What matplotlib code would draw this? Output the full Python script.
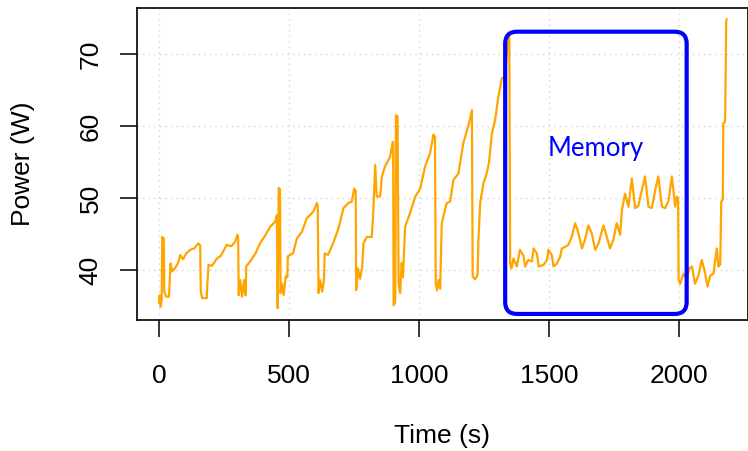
import matplotlib
matplotlib.use("Agg")
import matplotlib.pyplot as plt
from matplotlib.patches import FancyBboxPatch

# power trace (time in s, power in W)
time_s = [0, 2, 6, 10, 12, 18, 20, 27, 38, 40, 44, 50, 62, 73, 81, 92, 104, 119, 135, 151, 158,
          160, 165, 183, 186, 190, 204, 222, 238, 260, 277, 292, 301, 304,
          306, 312, 319, 327, 333, 335, 350, 369, 388, 408, 427, 446, 453,
          456, 460, 465, 467, 473, 479, 487, 493, 495, 515, 530, 549, 568, 593, 607, 610,
          613, 619, 627, 634, 637, 650, 671, 690, 709, 728, 741, 750, 756,
          758, 765, 773, 781, 786, 799, 818, 824, 831, 837, 850, 857, 869, 888, 899, 900,
          902, 908, 911, 917, 921, 927, 933, 938, 946, 965, 985, 1004, 1023, 1042, 1055, 1061,
          1064, 1069, 1075, 1081, 1087, 1106, 1119, 1132, 1151, 1170, 1190, 1203,
          1206, 1215, 1225, 1228, 1235, 1247, 1260, 1269, 1280, 1292, 1305, 1318, 1331, 1338, 1347,
          1350, 1355, 1363, 1376, 1388, 1401, 1408, 1420, 1434, 1440, 1453, 1460, 1478, 1492, 1497,
          1510, 1517, 1530, 1542, 1549, 1561, 1574, 1587, 1600, 1609, 1619, 1626, 1638, 1651,
          1664, 1677, 1690, 1709, 1722, 1734, 1747, 1760, 1773, 1780, 1792, 1805, 1818, 1831,
          1843, 1857, 1869, 1882, 1895, 1908, 1920, 1934, 1946, 1959, 1972, 1985, 1991, 1996,
          1998, 2004, 2017, 2030, 2039, 2049, 2061, 2074, 2087, 2100, 2109, 2119, 2132, 2145,
          2151, 2158, 2162, 2168, 2170, 2177, 2181, 2183]
power_w = [35.5, 36.5, 34.9, 36.0, 44.6, 44.4, 37.0, 36.3, 36.3, 37.9, 40.9, 39.8, 40.3, 41.0,
           42.1, 41.5, 42.3, 42.8, 43.0, 43.7, 43.4,
           37.2, 36.1, 36.1, 38.4, 40.7, 40.6, 41.6, 42.0, 43.5, 43.3, 43.9, 44.9, 44.5,
           36.5, 38.6, 36.3, 38.6, 36.5, 40.5, 41.2, 42.2, 43.7, 44.8, 46.0, 46.7, 47.6,
           34.7, 51.4, 51.2, 36.8, 38.1, 36.5, 39.1, 39.0, 41.9, 42.3, 44.4, 45.3, 47.2, 48.1,
           49.3, 48.9,
           36.8, 38.6, 37.0, 38.6, 42.3, 42.1, 43.9, 45.8, 48.6, 49.3, 49.5, 51.3, 51.0,
           37.2, 40.2, 38.8, 40.4, 43.7, 44.6, 44.6, 48.3, 54.6, 50.2, 50.2, 53.0, 54.4, 55.7,
           57.8, 57.5,
           35.1, 35.5, 61.5, 61.3, 38.1, 36.8, 41.0, 39.0, 46.0, 47.9, 50.2, 51.3, 54.4, 56.2,
           58.8, 58.5,
           38.1, 37.2, 38.6, 37.4, 46.5, 49.3, 49.5, 52.5, 53.4, 57.6, 60.1, 62.2,
           39.1, 38.7, 39.3, 44.2, 49.3, 52.0, 53.4, 55.0, 59.0, 60.8, 64.1, 66.6, 66.9, 70.5, 72.4,
           40.9, 40.2, 41.6, 40.5, 42.8, 42.0, 40.5, 41.4, 41.2, 43.0, 42.3, 40.5, 40.7, 41.4, 42.8,
           42.1, 40.5, 40.9, 41.8, 43.0, 43.2, 43.5, 44.6, 46.5, 45.6, 44.2, 43.0, 44.2, 46.2,
           45.1, 42.8, 43.7, 46.2, 44.6, 43.0, 44.2, 46.5, 44.9, 48.3, 50.6, 48.8, 52.7, 48.6,
           48.9, 51.1, 53.0, 48.8, 48.6, 51.1, 53.0, 48.8, 48.6, 49.6, 53.0, 48.8, 50.2, 50.0,
           38.6, 38.1, 39.5, 38.8, 40.2, 40.5, 38.1, 39.2, 41.4, 39.6, 37.7, 39.2, 39.5, 43.0,
           40.5, 40.8, 49.5, 49.8, 60.4, 60.6, 74.5, 74.8]

x_ticks = [0, 500, 1000, 1500, 2000]
y_ticks = [40, 50, 60, 70]

plt.rcParams['font.family'] = ['Liberation Sans', 'DejaVu Sans']

fig = plt.figure(figsize=(7.48, 4.51), dpi=100)
ax = fig.add_axes([136.5 / 748, 1 - 320 / 451, (747.5 - 136.5) / 748, (320 - 8) / 451])

ax.plot(time_s, power_w, color='#FFA500', lw=1.6, zorder=3)

ax.set_xlim(-87, 2263)
ax.set_ylim(33.06, 76.39)
ax.set_xticks(x_ticks)
ax.set_yticks(y_ticks)
ax.set_yticklabels([str(v) for v in y_ticks], rotation=90, va='center')
ax.grid(True, color='#D3D3D3', linestyle=(0, (1, 3)), lw=1.0)
ax.tick_params(axis='both', labelsize=19, length=12.5, width=1.1, direction='out')
ax.tick_params(axis='x', pad=19)
ax.tick_params(axis='y', pad=12)
for sp in ax.spines.values():
    sp.set_linewidth(1.2)

ax.set_xlabel('Time (s)', fontsize=19, labelpad=26)
ax.set_ylabel('Power (W)', fontsize=19, labelpad=31)

# rounded box around the memory phase
box = FancyBboxPatch((1331, 33.9), 2029 - 1331, 73.1 - 33.9,
                     boxstyle="round,pad=0,rounding_size=46", mutation_aspect=0.0361,
                     fill=False, edgecolor='#0000FF', lw=3.0, zorder=4)
ax.add_patch(box)
ax.text(1681, 56.9, 'Memory', color='#0000FF', fontsize=18.5, family=['Lato', 'DejaVu Sans'],
        ha='center', va='center', zorder=5)

fig.savefig('out.png', dpi=100)
